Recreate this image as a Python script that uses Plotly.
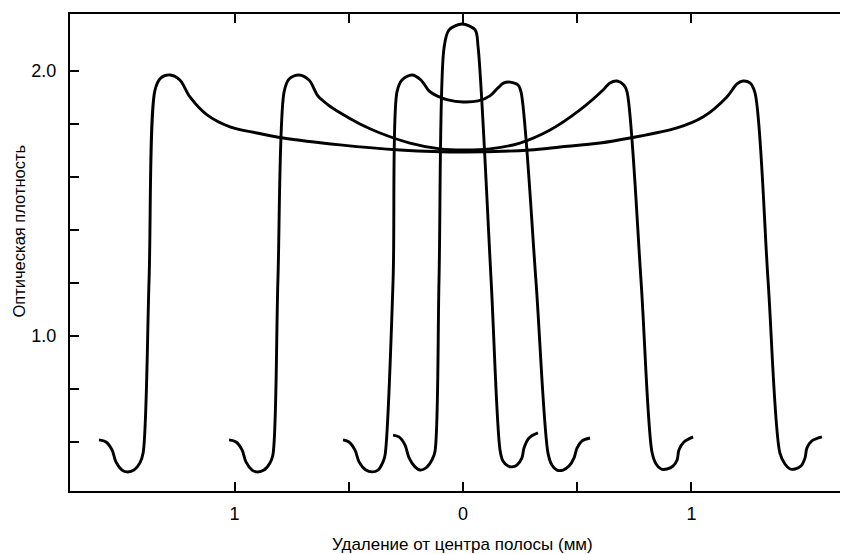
import plotly.graph_objects as go

# ====== data (x: mm from stripe centre, y: optical density) ======
# widest stripe
a_x = [-1.593, -1.562, -1.536, -1.519, -1.492, -1.470, -1.440, -1.414, -1.400,
       -1.374, -1.348, -1.322, -1.282, -1.239, -1.195, -1.120,
       -1.020, -0.902, -0.788, -0.538, -0.276, 0.0, 0.293, 0.425, 0.600, 0.731,
       0.937, 1.050, 1.155, 1.199, 1.225, 1.256, 1.278, 1.335, 1.387, 1.409,
       1.431, 1.453, 1.479, 1.497, 1.505, 1.527, 1.571]
a_y = [0.608, 0.600, 0.570, 0.525, 0.494, 0.487, 0.494, 0.521, 0.558,
       1.211, 1.928, 1.974, 1.985, 1.966, 1.902, 1.834,
       1.789, 1.766, 1.747, 1.721, 1.702, 1.694, 1.702, 1.713, 1.728, 1.747,
       1.785, 1.826, 1.902, 1.951, 1.962, 1.955, 1.917, 1.211, 0.558, 0.517,
       0.498, 0.498, 0.509, 0.540, 0.577, 0.604, 0.619]

# second stripe
b_x = [-1.024, -0.993, -0.967, -0.950, -0.923, -0.902, -0.871, -0.845, -0.832,
       -0.810, -0.783, -0.761, -0.718, -0.674, -0.635, -0.595,
       -0.538, -0.451, -0.363, -0.232, -0.101, 0.0, 0.118, 0.249, 0.381, 0.512,
       0.613, 0.643, 0.674, 0.704, 0.718, 0.779, 0.827, 0.845, 0.867, 0.893,
       0.919, 0.937, 0.945, 0.967, 1.007]
b_y = [0.608, 0.600, 0.570, 0.525, 0.494, 0.487, 0.494, 0.521, 0.551,
       1.211, 1.921, 1.970, 1.985, 1.966, 1.906, 1.875,
       1.842, 1.800, 1.766, 1.728, 1.706, 1.702, 1.706, 1.728, 1.777, 1.853,
       1.928, 1.955, 1.962, 1.947, 1.921, 1.211, 0.562, 0.517, 0.498, 0.498,
       0.509, 0.532, 0.570, 0.600, 0.619]

# third stripe
c_x = [-0.525, -0.499, -0.473, -0.455, -0.425, -0.398, -0.372, -0.350, -0.341,
       -0.306, -0.289, -0.267, -0.223, -0.184, -0.149, -0.114,
       -0.066, 0.0, 0.066, 0.118, 0.153, 0.179, 0.206, 0.241, 0.254, 0.319,
       0.372, 0.389, 0.411, 0.438, 0.464, 0.486, 0.499, 0.521, 0.556]
c_y = [0.608, 0.600, 0.570, 0.525, 0.494, 0.487, 0.494, 0.525, 0.551,
       1.211, 1.921, 1.966, 1.985, 1.966, 1.925, 1.906,
       1.891, 1.883, 1.887, 1.906, 1.936, 1.955, 1.958, 1.947, 1.921, 1.211,
       0.558, 0.513, 0.494, 0.494, 0.509, 0.540, 0.577, 0.604, 0.615]

# narrowest stripe
d_x = [-0.306, -0.280, -0.254, -0.236, -0.210, -0.188, -0.162, -0.136, -0.123,
       -0.105, -0.083, -0.061, -0.004, 0.053, 0.066, 0.123, 0.162, 0.175,
       0.197, 0.214, 0.236, 0.258, 0.267, 0.289, 0.328]
d_y = [0.626, 0.619, 0.589, 0.540, 0.506, 0.494, 0.502, 0.532, 0.562,
       1.211, 2.087, 2.155, 2.177, 2.155, 2.091, 1.211, 0.570, 0.528,
       0.509, 0.506, 0.513, 0.540, 0.577, 0.615, 0.634]

x_ticks = [-1.0, -0.5, 0.0, 0.5, 1.0]
x_labels = ["1", "", "0", "", "1"]
y_ticks = [0.6, 0.8, 1.0, 1.2, 1.4, 1.6, 1.8, 2.0]
y_labels = ["", "", "1.0", "", "", "", "", "2.0"]

fig = go.Figure()
for xs, ys in [(a_x, a_y), (b_x, b_y), (c_x, c_y), (d_x, d_y)]:
    fig.add_trace(go.Scatter(x=xs, y=ys, mode="lines",
                             line=dict(color="black", width=2.9,
                                       shape="spline", smoothing=0.9),
                             showlegend=False, hoverinfo="skip"))

# page body has an 8px margin, so the figure is drawn 8px smaller
fig.update_layout(
    width=840, height=546,
    margin=dict(l=62, r=0, t=6, b=63),
    paper_bgcolor="white", plot_bgcolor="white",
    font=dict(family="Liberation Sans, Arial", color="black"),
    xaxis=dict(range=[-1.720, 1.685], showgrid=False, zeroline=False,
               showline=True, linecolor="black", linewidth=2, mirror="ticks",
               ticks="inside", ticklen=9, tickwidth=2, tickcolor="black",
               tickvals=x_ticks, ticktext=x_labels,
               tickfont=dict(size=18), ticklabelstandoff=5),
    yaxis=dict(range=[0.415, 2.215], showgrid=False, zeroline=False,
               showline=True, linecolor="black", linewidth=2,
               ticks="inside", ticklen=9, tickwidth=2, tickcolor="black",
               tickvals=y_ticks, ticktext=y_labels,
               tickfont=dict(size=18), ticklabelstandoff=8),
    annotations=[
        dict(text="Удаление от центра полосы (мм)", xref="paper", yref="paper",
             x=0.504, y=-0.113, showarrow=False, font=dict(size=17),
             xanchor="center", yanchor="middle"),
        dict(text="Оптическая плотность", xref="paper", yref="paper",
             x=-0.0656, y=0.546, showarrow=False, font=dict(size=16.5),
             textangle=-90, xanchor="center", yanchor="middle"),
    ],
)

fig.write_html("out.html")
